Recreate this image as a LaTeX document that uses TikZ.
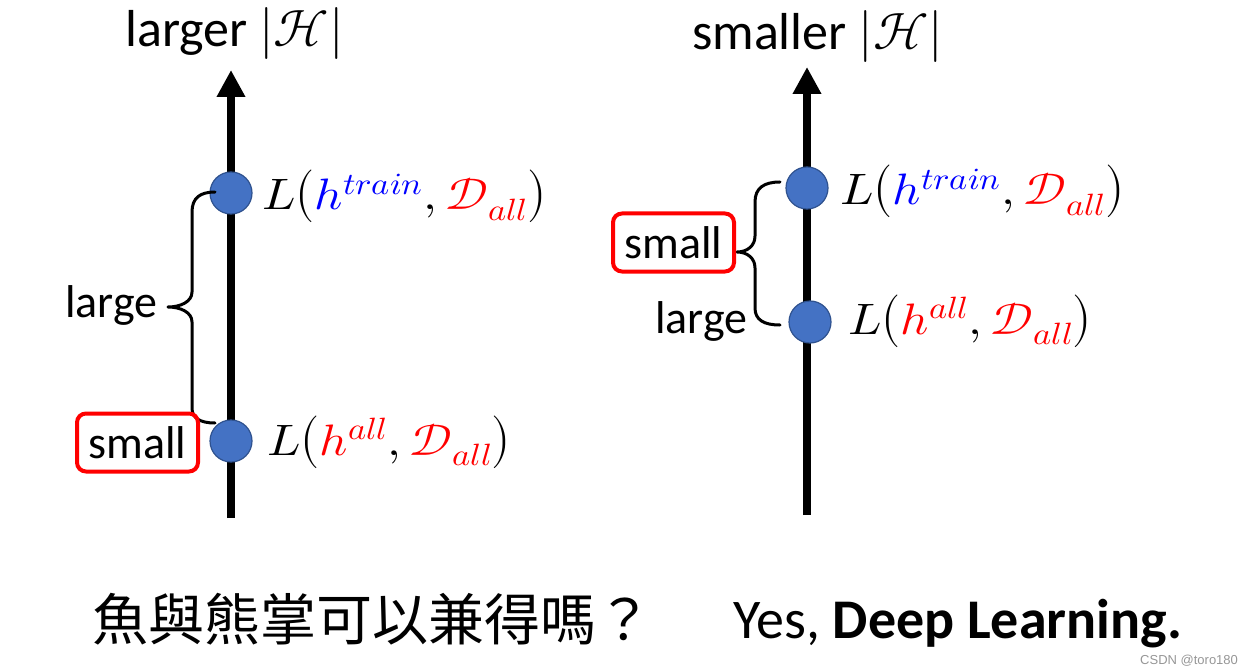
\documentclass[tikz,border=0pt]{standalone}
\usepackage{fontspec}
\usepackage{unicode-math}
\usepackage{graphicx}
\setmainfont{Carlito}
\setmathfont{Latin Modern Math}
\newfontfamily\cjk{Noto Sans CJK TC}
\newfontfamily\wmfont{Liberation Sans}
\usetikzlibrary{arrows.meta}
\definecolor{dotblue}{RGB}{68,114,196}
\definecolor{dotedge}{RGB}{47,82,143}
\definecolor{wmgray}{RGB}{150,150,150}
\newcommand{\wideform}[1]{\scalebox{1.12}[1]{$#1$}}
\newcommand{\tallopen}{\mathopen{\scalebox{1}[1.2]{$($}}}
\newcommand{\tallclose}{\mathclose{\scalebox{1}[1.2]{$)$}}}
\begin{document}
\begin{tikzpicture}[x=1pt,y=-1pt,
  axisline/.style={line width=8pt,-{Triangle[width=27pt,length=27pt]}},
  dot/.style={circle,minimum size=42pt,inner sep=0pt,fill=dotblue,draw=dotedge,line width=1.2pt},
  bracepath/.style={line width=3pt,line cap=round,line join=round},
  lbl/.style={font=\fontsize{46}{50}\selectfont,inner sep=0pt,anchor=base west},
  ttl/.style={font=\fontsize{52}{56}\selectfont,inner sep=0pt,anchor=base west},
  redbox/.style={draw=red,line width=4pt,rounded corners=9pt,minimum width=121pt,minimum height=58pt,inner sep=0pt,font=\fontsize{46}{50}\selectfont},
  formula/.style={font=\fontsize{44}{50}\selectfont,inner sep=0pt,anchor=base west},
  bottomtxt/.style={font=\fontsize{56}{60}\selectfont,inner sep=0pt,anchor=base west}]
\useasboundingbox (0,0) rectangle (1249,668);
% titles
\node[ttl] (t1) at (125,47) {larger $|\mathcal{H}|$};
\node[ttl] (t2) at (692,50) {smaller $|\mathcal{H}|$};
% left axis
\coordinate (la0) at (231,518);
\coordinate (la1) at (231,70);
\draw[axisline] (la0) -- (la1);
\node[dot] (l1) at (231,193) {};
\node[dot] (l2) at (231,441) {};
% right axis
\coordinate (ra0) at (807,515);
\coordinate (ra1) at (807,67);
\draw[axisline] (ra0) -- (ra1);
\node[dot] (r1) at (807,188) {};
\node[dot] (r2) at (810,322) {};
% left brace
\coordinate (lb1) at (215,192);
\coordinate (lbt) at (168,307);
\coordinate (lb2) at (215,423);
\draw[bracepath] (lb1) .. controls (200,192) and (192,198) .. (192,212) -- (192,292)
  .. controls (192,302) and (180,307) .. (lbt)
  .. controls (180,307) and (192,312) .. (192,322) -- (192,408)
  .. controls (192,418) and (200,423) .. (lb2);
% right brace
\coordinate (rb1) at (780,182);
\coordinate (rbt) at (737,252);
\coordinate (rb2) at (780,325);
\draw[bracepath] (rb1) .. controls (764,182) and (755,188) .. (755,202) -- (755,236)
  .. controls (755,246) and (747,252) .. (rbt)
  .. controls (747,252) and (755,258) .. (755,268) -- (755,308)
  .. controls (755,320) and (764,325) .. (rb2);
% labels
\node[lbl] (lg1) at (65,317) {large};
\node[redbox] (sm1) at (137.5,442.5) {small};
\node[redbox] (sm2) at (673.5,242.5) {small};
\node[lbl] (lg2) at (655,333) {large};
% formulas
\node[formula] (f1) at (262,210) {\wideform{L\tallopen\textcolor{blue}{h^{train}},\textcolor{red}{\mathcal{D}_{all}}\tallclose}};
\node[formula] (f2) at (267,455) {\wideform{L\tallopen\textcolor{red}{h^{all}},\textcolor{red}{\mathcal{D}_{all}}\tallclose}};
\node[formula] (f3) at (840,205) {\wideform{L\tallopen\textcolor{blue}{h^{train}},\textcolor{red}{\mathcal{D}_{all}}\tallclose}};
\node[formula] (f4) at (848,334) {\wideform{L\tallopen\textcolor{red}{h^{all}},\textcolor{red}{\mathcal{D}_{all}}\tallclose}};
% bottom texts
\node[bottomtxt,font=\fontsize{56}{60}\cjk] (c1) at (92,640) {魚與熊掌可以兼得嗎？};
\node[bottomtxt] (c2) at (733,638) {Yes, \textbf{Deep Learning.}};
\node[inner sep=0pt,anchor=base west,font=\fontsize{13}{15}\wmfont,text=wmgray] (wm) at (1140,664) {CSDN @toro180};
\end{tikzpicture}
\end{document}
